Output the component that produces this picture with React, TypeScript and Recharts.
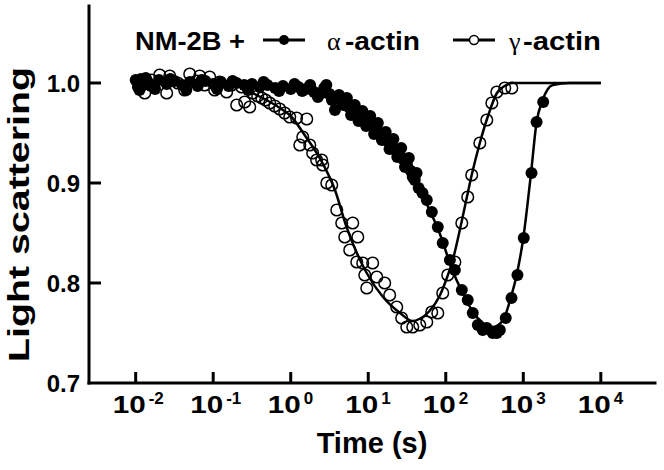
import { ComposedChart, Scatter, Line, XAxis, YAxis, Legend } from 'recharts';

const FONT = '"Liberation Sans", Arial, sans-serif';

// decade ticks on the time axis
const decades = [0.01, 0.1, 1, 10, 100, 1000, 10000];
const decadeExp = ['-2', '-1', '0', '1', '2', '3', '4'];
const yTicks = [0.7, 0.8, 0.9, 1.0];
const yTickLabels = ['0.7', '0.8', '0.9', '1.0'];

// NM-2B + alpha-actin (filled circles)
const alphaTime = [
  0.01, 0.0107, 0.0117, 0.0126, 0.0141, 0.0158, 0.02, 0.0251, 0.0316, 0.0398,
  0.0501, 0.0631, 0.0794, 0.1, 0.126, 0.158, 0.2, 0.251, 0.316, 0.398,
  0.501, 0.631, 0.794, 1.0, 1.26, 1.41, 1.58, 2.0, 2.51, 2.88,
  3.16, 3.72, 3.98, 4.47, 5.01, 5.62, 6.31, 7.08, 7.94, 8.91,
  10, 11.2, 12.6, 14.1, 15.8, 17.8, 20, 22.4, 25.1, 28.2,
  31.6, 35.5, 39.8, 44.7, 56.9, 66.1, 78.9, 91.4, 113, 131,
  161, 192, 223, 259, 300, 338, 404, 455, 498, 594,
  705, 841, 1014, 1276, 1483, 1807,
  // second, noisier row through the slow decline
  0.0112, 0.0135, 0.0178, 0.028, 0.045, 0.071, 0.112, 0.178, 0.282, 0.447,
  0.708, 1.12, 1.78, 2.24, 2.7, 3.4, 4.2, 4.8, 5.3, 6.0,
  6.7, 7.5, 8.4, 9.4, 10.6, 11.9, 13.3, 15.0, 16.8, 18.8,
  21.1, 23.7, 26.6, 29.8, 33.4, 37.5, 42.0, 50.1,
];
const alphaSignal = [
  1.003, 0.996, 1.004, 0.998, 1.002, 0.997, 1.003, 0.999, 1.002, 0.998,
  1.001, 0.997, 1.002, 0.999, 1.001, 0.997, 1.0, 0.998, 0.999, 0.996,
  0.998, 0.995, 0.997, 0.994, 0.996, 0.992, 0.994, 0.991, 0.99, 0.998,
  0.989, 0.973, 0.986, 0.982, 0.98, 0.976, 0.975, 0.97, 0.968, 0.965,
  0.962, 0.958, 0.955, 0.95, 0.947, 0.942, 0.938, 0.933, 0.93, 0.924,
  0.918, 0.912, 0.903, 0.895, 0.883, 0.871, 0.856, 0.84, 0.823, 0.813,
  0.793, 0.783, 0.77, 0.758, 0.753, 0.755, 0.75, 0.75, 0.753, 0.765,
  0.785, 0.808, 0.845, 0.91, 0.961, 0.981,
  0.993, 1.005, 0.994, 1.004, 0.993, 1.003, 0.994, 1.002, 0.993, 1.001,
  0.992, 0.999, 0.998, 0.986, 0.995, 0.983, 0.988, 0.978, 0.985, 0.968,
  0.978, 0.962, 0.972, 0.957, 0.967, 0.949, 0.96, 0.943, 0.951, 0.934,
  0.944, 0.926, 0.935, 0.916, 0.925, 0.906, 0.91, 0.89,
];

// NM-2B + gamma-actin (open circles)
const gammaTime = [
  0.0113, 0.0131, 0.0161, 0.0204, 0.0251, 0.0275, 0.0348, 0.0429, 0.0498, 0.0612,
  0.067, 0.0776, 0.0901, 0.1045, 0.121, 0.149, 0.173, 0.201, 0.233, 0.255,
  0.296, 0.324, 0.375, 0.423, 0.475, 0.536, 0.622, 0.721, 0.837, 0.971,
  1.19, 1.31, 1.43, 1.61, 1.76, 1.92, 2.16, 2.51, 2.59, 2.92,
  3.38, 3.93, 4.55, 6.31, 4.98, 7.33, 5.77, 7.11, 8.49, 11.4,
  9.02, 12.9, 9.57, 16.3, 18.9, 23.3, 27.0, 31.4, 37.5, 46.2,
  56.9, 65.9, 78.9, 91.4, 106, 131, 161, 192, 216, 275,
  338, 393, 455, 577, 711,
];
const gammaSignal = [
  0.998, 0.99, 1.003, 1.008, 0.99, 1.007, 1.0, 0.993, 1.009, 1.002,
  1.007, 0.998, 1.006, 0.993, 1.001, 0.991, 0.998, 0.978, 0.996, 0.981,
  0.976, 0.99, 0.987, 0.985, 0.983, 0.98, 0.977, 0.974, 0.97, 0.966,
  0.965, 0.938, 0.946, 0.964, 0.938, 0.93, 0.923, 0.923, 0.918, 0.9,
  0.898, 0.873, 0.86, 0.86, 0.846, 0.846, 0.833, 0.821, 0.82, 0.82,
  0.808, 0.806, 0.795, 0.8, 0.788, 0.776, 0.765, 0.756, 0.756, 0.758,
  0.761, 0.771, 0.77, 0.79, 0.808, 0.821, 0.86, 0.886, 0.908, 0.94,
  0.963, 0.98, 0.991, 0.995, 0.995,
];

// fitted curves
const alphaFitTime = [
  0.01, 0.295, 0.724, 1.91, 5.25, 9.55, 14.1, 20.9, 31.6, 45.7,
  61.7, 83.2, 102, 123, 166, 224, 302, 407, 550, 676,
  832, 1000, 1259, 1479, 1778, 2399, 3981, 10000,
];
const alphaFitSignal = [
  1.0, 1.0, 0.996, 0.991, 0.98, 0.966, 0.956, 0.94, 0.92, 0.894,
  0.873, 0.85, 0.83, 0.812, 0.79, 0.771, 0.76, 0.756, 0.763, 0.783,
  0.81, 0.845, 0.91, 0.96, 0.983, 0.998, 1.0, 1.0,
];
const gammaFitTime = [
  0.01, 0.162, 0.363, 0.724, 1.0, 1.51, 2.57, 3.72, 5.25, 9.55,
  15.5, 25.7, 37.2, 45.7, 61.7, 83.2, 100, 123, 162, 219,
  275, 347, 457, 575, 724, 10000,
];
const gammaFitSignal = [
  1.0, 0.999, 0.988, 0.975, 0.967, 0.948, 0.92, 0.893, 0.856, 0.81,
  0.786, 0.77, 0.762, 0.764, 0.772, 0.787, 0.802, 0.823, 0.863, 0.91,
  0.94, 0.966, 0.99, 0.997, 1.0, 1.0,
];

const pairs = (ts: number[], vs: number[]) => ts.map((t, i) => ({ t, v: vs[i] }));

const alphaPts = pairs(alphaTime, alphaSignal);
const gammaPts = pairs(gammaTime, gammaSignal);
const alphaFit = pairs(alphaFitTime, alphaFitSignal);
const gammaFit = pairs(gammaFitTime, gammaFitSignal);

const AX = { stroke: '#000', strokeWidth: 3, strokeLinecap: 'square' as const };
const BOLD = { fontFamily: FONT, fontWeight: 'bold', fill: '#000' } as const;

function BottomTick({ x, y, payload }: any) {
  const i = decades.indexOf(payload.value);
  return (
    <g>
      <line x1={x} x2={x} y1={y} y2={y - 11} stroke="#000" strokeWidth={3} />
      <text x={x - 23} y={y + 30} {...BOLD} fontSize={24} textLength={33} lengthAdjust="spacingAndGlyphs">
        10
      </text>
      <text x={x + 13} y={y + 21} {...BOLD} fontSize={17}>
        {decadeExp[i]}
      </text>
    </g>
  );
}

function TopTick({ x, y }: any) {
  return <line x1={x} x2={x} y1={y} y2={y + 12} stroke="#000" strokeWidth={3} />;
}

function LeftTick({ x, y, payload }: any) {
  const i = yTicks.indexOf(payload.value);
  return (
    <g>
      {i > 0 && <line x1={x} x2={x + 12} y1={y} y2={y} stroke="#000" strokeWidth={3} />}
      <text x={x - 9} y={y + 9} textAnchor="end" {...BOLD} fontSize={24}>
        {yTickLabels[i]}
      </text>
    </g>
  );
}

function RightTick({ x, y }: any) {
  return <line x1={x - 10} x2={x} y1={y} y2={y} stroke="#000" strokeWidth={3} />;
}

function LegendBox() {
  return (
    <svg width={664} height={60} style={{ display: 'block' }}>
      <text x={135} y={50} {...BOLD} fontSize={25} textLength={110} lengthAdjust="spacingAndGlyphs">
        NM-2B +
      </text>
      <line x1={263} x2={305} y1={40} y2={40} stroke="#000" strokeWidth={3} />
      <circle cx={284} cy={40} r={5} fill="#000" />
      <text x={327} y={50} fontFamily='"Liberation Serif", serif' fontSize={26}>
        α
      </text>
      <text x={345} y={50} {...BOLD} fontSize={25} textLength={75} lengthAdjust="spacingAndGlyphs">
        -actin
      </text>
      <line x1={453} x2={495} y1={40} y2={40} stroke="#000" strokeWidth={3} />
      <circle cx={474} cy={40} r={4.5} fill="#fff" stroke="#000" strokeWidth={1.5} />
      <text x={509} y={50} fontFamily='"Liberation Serif", serif' fontSize={26}>
        γ
      </text>
      <text x={523} y={50} {...BOLD} fontSize={25} textLength={78} lengthAdjust="spacingAndGlyphs">
        -actin
      </text>
    </svg>
  );
}

const filledDot = (p: any) => <circle cx={p.cx} cy={p.cy} r={6} fill="#000" />;
const openDot = (p: any) => <circle cx={p.cx} cy={p.cy} r={5.8} fill="none" stroke="#000" strokeWidth={1.5} />;

export default function App() {
  return (
    <div style={{ position: 'absolute', left: 0, top: 0, background: '#fff' }}>
      <ComposedChart width={664} height={470} margin={{ top: 6, right: 9, bottom: 0, left: 0 }}>
        <XAxis
          dataKey="t"
          type="number"
          scale="log"
          domain={[0.0025, 50000]}
          allowDataOverflow
          ticks={decades}
          height={87}
          axisLine={AX}
          tickLine={false}
          tickSize={0}
          tickMargin={0}
          tick={<BottomTick />}
          label={{
            content: ({ viewBox }: any) => (
              <text
                x={viewBox.x + viewBox.width / 2}
                y={viewBox.y + 70}
                textAnchor="middle"
                {...BOLD}
                fontSize={29}
              >
                Time (s)
              </text>
            ),
          }}
        />
        <XAxis
          xAxisId="top"
          orientation="top"
          type="number"
          scale="log"
          domain={[0.0025, 50000]}
          allowDataOverflow
          ticks={decades}
          height={0}
          axisLine={AX}
          tickLine={false}
          tickSize={0}
          tickMargin={0}
          tick={<TopTick />}
        />
        <YAxis
          dataKey="v"
          type="number"
          domain={[0.7, 1.077]}
          allowDataOverflow
          ticks={yTicks}
          width={89}
          axisLine={AX}
          tickLine={false}
          tickSize={0}
          tickMargin={0}
          tick={<LeftTick />}
          label={{
            content: ({ viewBox }: any) => {
              const cx = viewBox.x + 29;
              const cy = viewBox.y + viewBox.height / 2 + 20;
              return (
                <text
                  x={cx}
                  y={cy}
                  transform={`rotate(-90 ${cx} ${cy})`}
                  textAnchor="middle"
                  {...BOLD}
                  fontSize={30}
                  textLength={295}
                  lengthAdjust="spacingAndGlyphs"
                >
                  Light scattering
                </text>
              );
            },
          }}
        />
        <YAxis
          yAxisId="right"
          orientation="right"
          type="number"
          domain={[0.7, 1.077]}
          allowDataOverflow
          ticks={[0.8, 0.9, 1.0]}
          width={0}
          axisLine={AX}
          tickLine={false}
          tickSize={0}
          tickMargin={0}
          tick={<RightTick />}
        />
        <Legend
          layout="horizontal"
          verticalAlign="middle"
          align="center"
          wrapperStyle={{ left: 0, top: 0, width: 664, height: 60 }}
          content={() => <LegendBox />}
        />
        <Scatter name="γ-actin" data={gammaPts} shape={openDot} isAnimationActive={false} />
        <Scatter name="α-actin" data={alphaPts} shape={filledDot} isAnimationActive={false} />
        <Line
          data={gammaFit}
          dataKey="v"
          type="monotone"
          stroke="#000"
          strokeWidth={2.5}
          dot={false}
          activeDot={false}
          isAnimationActive={false}
        />
        <Line
          data={alphaFit}
          dataKey="v"
          type="monotone"
          stroke="#000"
          strokeWidth={2.5}
          dot={false}
          activeDot={false}
          isAnimationActive={false}
        />
      </ComposedChart>
    </div>
  );
}
